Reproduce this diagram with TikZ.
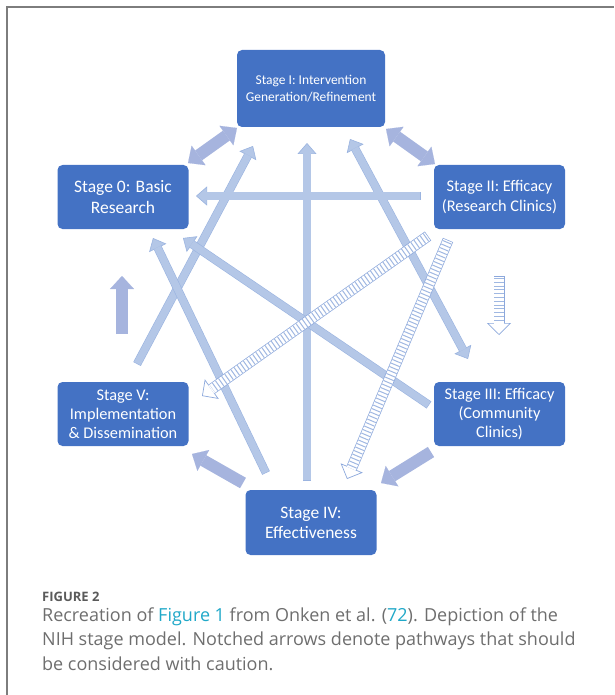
\documentclass[tikz,border=0pt]{standalone}
\usepackage{fontspec}
\setmainfont{Carlito}
\newfontfamily\capfont{Open Sans}
\usetikzlibrary{arrows.meta}

\definecolor{stageblue}{RGB}{68,114,196}
\definecolor{linkfill}{RGB}{180,199,231}
\definecolor{linkedge}{RGB}{155,180,224}
\definecolor{stepfill}{RGB}{166,180,222}
\definecolor{notchedge}{RGB}{140,168,220}
\definecolor{notchfill}{RGB}{160,184,226}
\definecolor{capgray}{RGB}{110,110,110}
\definecolor{figgray}{RGB}{90,90,90}
\definecolor{caplink}{RGB}{32,168,200}
\definecolor{framegray}{RGB}{125,125,125}

\tikzset{
  stage/.style={rectangle, rounded corners=5pt, fill=stageblue, text=white,
    minimum width=131pt, minimum height=64pt, inner sep=0pt, align=center},
  linkhead/.tip={Triangle[length=11pt,width=19pt,line width=0.6pt,fill=linkfill]},
  stephead/.tip={Triangle[length=13pt,width=24pt,line width=0.1pt]},
  notchhead/.tip={Triangle[length=12pt,width=24pt,line width=0.7pt,fill=white]},
  link/.style={draw=linkedge, line width=8.5pt, -linkhead,
    postaction={draw=linkfill, line width=7.3pt, -, shorten <=0.6pt, shorten >=10.4pt}},
  twolink/.style={draw=linkedge, line width=8.5pt, linkhead-linkhead,
    postaction={draw=linkfill, line width=7.3pt, -, shorten <=10.4pt, shorten >=10.4pt}},
  nextstage/.style={draw=stepfill, line width=12pt, -stephead},
  twostage/.style={draw=stepfill, line width=12pt, stephead-stephead},
  notched/.style={draw=notchedge, line width=11pt, -notchhead,
    postaction={draw=white, line width=9.6pt, -, shorten <=0.7pt, shorten >=11.3pt},
    postaction={draw=notchfill, line width=9.6pt, -, dash pattern=on 1pt off 2.8pt,
      shorten <=2pt, shorten >=12.6pt}},
  capline/.style={anchor=base west, inner sep=0pt, text=capgray,
    font=\capfont\fontsize{18}{22}\selectfont}
}

\begin{document}
\begin{tikzpicture}[x=1pt,y=-1pt]
\useasboundingbox (0,0) rectangle (614,695);
\draw[framegray, line width=1.2pt] (7,695) -- (7,7) -- (614,7);

% stages
\node(s1) at (311,88.5)[stage, minimum width=148pt, minimum height=77pt,
  font=\fontsize{13.5}{16.5}\selectfont] {Stage I: Intervention\\Generation/Refinement};
\node(s0) at (123,197)[stage, font=\fontsize{17.5}{20.5}\selectfont] {Stage 0: Basic\\Research};
\node(s2) at (499.5,197)[stage, font=\fontsize{16.3}{20}\selectfont] {Stage II: Efficacy\\(Research Clinics)};
\node(s5) at (123,414)[stage, font=\fontsize{16.3}{19}\selectfont] {Stage V:\\Implementation\\\& Dissemination};
\node(s3) at (499.5,414)[stage, font=\fontsize{16.3}{19}\selectfont] {Stage III: Efficacy\\(Community\\Clinics)};
\node(s4) at (311,522.5)[stage, minimum height=65pt, font=\fontsize{17.5}{20}\selectfont] {Stage IV:\\Effectiveness};

% arrow ends
\coordinate(t20) at (421,196);   \coordinate(h20) at (196,196);
\coordinate(t41) at (307,481);   \coordinate(h41) at (307,143);
\coordinate(t51) at (137,364);   \coordinate(h51) at (253,146);
\coordinate(e13a) at (350,139);  \coordinate(e13b) at (468,359);
\coordinate(t30) at (429,405);   \coordinate(h30) at (183,238);
\coordinate(t40) at (266,473);   \coordinate(h40) at (153,238);
\coordinate(e01a) at (188,163);  \coordinate(e01b) at (237,128);
\coordinate(e12a) at (386,129);  \coordinate(e12b) at (435,164);
\coordinate(t50) at (122,334);   \coordinate(h50) at (122,276);
\coordinate(t45) at (243,483);   \coordinate(h45) at (192,454);
\coordinate(t34) at (431,452);   \coordinate(h34) at (381,483);
\coordinate(t23) at (499,276);   \coordinate(h23) at (499,335);
\coordinate(t25) at (428,236);   \coordinate(h25) at (202,396);
\coordinate(t24) at (448,240);   \coordinate(h24) at (347,479);

\path
  (e01a) edge[twostage] (e01b)
  (e12a) edge[twostage] (e12b)
  (t50)  edge[nextstage] (h50)
  (t45)  edge[nextstage] (h45)
  (t34)  edge[nextstage] (h34);

\path
  (t41)  edge[link]    (h41)
  (t51)  edge[link]    (h51)
  (t40)  edge[link]    (h40)
  (t30)  edge[link]    (h30)
  (e13a) edge[twolink] (e13b)
  (t20)  edge[link]    (h20);

% pathways to treat with caution
\path
  (t23) edge[notched] (h23)
  (t25) edge[notched] (h25)
  (t24) edge[notched] (h24);

% caption
\node(fig) at (42,601)[anchor=base west, inner sep=0pt, text=figgray,
  font=\capfont\fontsize{13}{15}\bfseries] {FIGURE 2};
\node(cap1) at (42,621)[capline] {Recreation of \textcolor{caplink}{Figure 1} from Onken et al. (\textcolor{caplink}{72}). Depiction of the};
\node(cap2) at (42,645.5)[capline] {NIH stage model. Notched arrows denote pathways that should};
\node(cap3) at (42,670)[capline] {be considered with caution.};
\end{tikzpicture}
\end{document}
